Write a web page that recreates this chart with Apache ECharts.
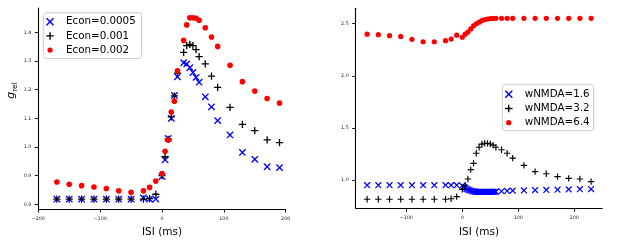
<!DOCTYPE html>
<html><head><meta charset="utf-8">
<script src="https://cdn.jsdelivr.net/npm/echarts@6/dist/echarts.min.js"></script>
<style>html,body{margin:0;padding:0;background:#fff}#c{width:617px;height:244px}</style>
</head><body><div id="c"></div>
<script>
// ---------- data ----------
const leftX = [-170,-150,-130,-110,-90,-70,-50,-30,-20,-10,0,5,10,15,20,25,35,40,45,50,55,60,70,80,90,110,130,150,170,190];
const econ0005 = [0.818,0.818,0.818,0.818,0.818,0.818,0.818,0.822,0.818,0.818,0.897,0.955,1.03,1.10,1.18,1.245,1.294,1.29,1.277,1.26,1.243,1.226,1.175,1.14,1.092,1.042,0.981,0.957,0.931,0.928];
const econ001 = [0.818,0.818,0.818,0.818,0.818,0.818,0.818,0.818,0.82,0.835,0.90,0.966,1.027,1.105,1.178,1.258,1.33,1.354,1.358,1.354,1.34,1.315,1.29,1.247,1.208,1.138,1.079,1.057,1.025,1.015];
const econ002 = [0.878,0.87,0.865,0.86,0.855,0.847,0.842,0.847,0.859,0.881,0.907,0.985,1.024,1.122,1.16,1.266,1.372,1.426,1.451,1.451,1.449,1.442,1.416,1.384,1.351,1.285,1.228,1.195,1.169,1.153];

const rightBlueX = [-170,-150,-130,-110,-90,-70,-50,-30,-20,-10,0,2.5,5,7.5,10,12.5,15,17.5,20,22.5,25,27.5,30,32.5,35,37.5,40,42.5,45,47.5,50,52.5,55,57.5,60,70,80,90,110,130,150,170,190,210,230];
const wNMDA16 = [0.95,0.95,0.95,0.95,0.95,0.95,0.95,0.95,0.95,0.95,0.945,0.935,0.925,0.915,0.908,0.902,0.897,0.893,0.89,0.888,0.886,0.886,0.886,0.886,0.886,0.886,0.886,0.886,0.886,0.886,0.886,0.886,0.886,0.887,0.888,0.892,0.895,0.898,0.90,0.903,0.905,0.907,0.91,0.912,0.913];
const rightX = [-170,-150,-130,-110,-90,-70,-50,-30,-20,-10,0,5,10,15,20,25,30,35,40,45,50,55,60,70,80,90,110,130,150,170,190,210,230];
const wNMDA32 = [0.815,0.815,0.815,0.815,0.815,0.815,0.815,0.815,0.82,0.84,0.91,0.95,1.01,1.10,1.16,1.257,1.314,1.345,1.353,1.352,1.346,1.335,1.314,1.29,1.257,1.21,1.14,1.08,1.06,1.032,1.016,1.01,0.984];
const wNMDA64 = [2.40,2.395,2.385,2.378,2.35,2.327,2.327,2.337,2.353,2.39,2.37,2.40,2.42,2.45,2.48,2.50,2.515,2.53,2.54,2.545,2.55,2.55,2.552,2.552,2.552,2.552,2.552,2.552,2.552,2.552,2.552,2.552,2.552];

const leftXTicks = [-200,-100,0,100,200];
const leftYTicks = [0.8,0.9,1.0,1.1,1.2,1.3,1.4];
const rightXTicks = [-100,0,100,200];
const rightYTicks = [1.0,1.5,2.0,2.5];

const leftNames = ['Econ=0.0005','Econ=0.001','Econ=0.002'];
const rightNames = ['wNMDA=1.6','wNMDA=3.2','wNMDA=6.4'];

// ---------- styling ----------
const FONT = 'DejaVu Sans';
const X_SYM = 'path://M0,0L1.4,0L5,3.6L8.6,0L10,0L10,1.4L6.4,5L10,8.6L10,10L8.6,10L5,6.4L1.4,10L0,10L0,8.6L3.6,5L0,1.4Z';
const P_SYM = 'path://M4.1,0L5.9,0L5.9,4.1L10,4.1L10,5.9L5.9,5.9L5.9,10L4.1,10L4.1,5.9L0,5.9L0,4.1L4.1,4.1Z';
const O_SYM = 'path://M0,0M10,10M1.5,5A3.5,3.5,0,1,0,8.5,5A3.5,3.5,0,1,0,1.5,5Z';
const minus = v => String(v).replace('-', '\u2212');
const pairs = (xs, ys) => xs.map((x, i) => [x, ys[i]]);

function xAxis(gi, min, max, ticks) {
  return {
    type: 'value', gridIndex: gi, min, max, position: 'bottom',
    axisLine: { show: true, onZero: false, lineStyle: { color: '#000', width: 1.1 } },
    axisTick: { show: true, inside: false, length: 3.5, lineStyle: { color: '#000', width: 0.9 }, customValues: ticks },
    axisLabel: { customValues: ticks, formatter: v => minus(v), fontSize: 4.8, color: '#222', margin: 7, fontFamily: FONT },
    splitLine: { show: false },
    name: 'ISI (ms)', nameLocation: 'middle', nameGap: 18, nameMoveOverlap: false,
    nameTextStyle: { fontFamily: FONT, fontSize: 10.5, color: '#000' }
  };
}
function yAxis(gi, min, max, ticks, extra) {
  return Object.assign({
    type: 'value', gridIndex: gi, min, max, position: 'left',
    axisLine: { show: true, onZero: false, lineStyle: { color: '#000', width: 1.1 } },
    axisTick: { show: true, inside: false, length: 3.5, lineStyle: { color: '#000', width: 0.9 }, customValues: ticks },
    axisLabel: { customValues: ticks, formatter: v => v.toFixed(1), fontSize: 4.8, color: '#222', margin: 7, fontFamily: FONT },
    splitLine: { show: false }
  }, extra || {});
}
function legend(names, left, top, padding) {
  return {
    orient: 'vertical', left, top, data: names, selectedMode: false,
    itemWidth: 22, itemHeight: 7.5, itemGap: 4.2, padding,
    borderColor: '#cccccc', borderWidth: 1, borderRadius: 3,
    backgroundColor: 'rgba(255,255,255,0.8)',
    textStyle: { fontFamily: FONT, fontSize: 10.3, color: '#000', lineHeight: 10 }
  };
}
function scat(name, xi, xs, ys, sym, size, color) {
  return { type: 'scatter', name, xAxisIndex: xi, yAxisIndex: xi, data: pairs(xs, ys),
    symbol: sym, symbolSize: size, itemStyle: { color, opacity: 1 }, emphasis: { disabled: true } };
}

const chart = echarts.init(document.getElementById('c'), null, { renderer: 'canvas' });
chart.setOption({
  animation: false,
  grid: [
    { left: 38.3, top: 8, width: 247.4, height: 201, containLabel: false, outerBoundsMode: 'none' },
    { left: 355.7, top: 8.3, width: 246.6, height: 200, containLabel: false, outerBoundsMode: 'none' }
  ],
  xAxis: [ xAxis(0, -200, 200, leftXTicks), xAxis(1, -190.4, 250, rightXTicks) ],
  yAxis: [
    yAxis(0, 0.7836, 1.485, leftYTicks, {
      name: '{g|g}{r|rel}', nameLocation: 'middle', nameRotate: 90, nameGap: 19, nameMoveOverlap: false,
      nameTextStyle: { padding: [0, 0, 0, 36], rich: {
        g: { fontStyle: 'italic', fontSize: 11, fontFamily: FONT, color: '#000', lineHeight: 16, verticalAlign: 'middle' },
        r: { fontSize: 7.5, fontFamily: FONT, color: '#000', lineHeight: 8, verticalAlign: 'bottom' }
      } }
    }),
    yAxis(1, 0.7284, 2.648, rightYTicks)
  ],
  legend: [
    legend(leftNames, 43.3, 12.7, [4, 6, 3.3, 3]),
    legend(rightNames, 502.3, 84.3, [5, 4, 3, 2.7])
  ],
  series: [
    scat(leftNames[0], 0, leftX, econ0005, X_SYM, 6.8, '#0000ff'),
    scat(leftNames[1], 0, leftX, econ001, P_SYM, 7.2, '#000000'),
    scat(leftNames[2], 0, leftX, econ002, O_SYM, 8, '#ff0000'),
    scat(rightNames[0], 1, rightBlueX, wNMDA16, X_SYM, 6.2, '#0000ff'),
    scat(rightNames[1], 1, rightX, wNMDA32, P_SYM, 6.4, '#000000'),
    scat(rightNames[2], 1, rightX, wNMDA64, O_SYM, 7.4, '#ff0000')
  ]
});
</script>
</body></html>
